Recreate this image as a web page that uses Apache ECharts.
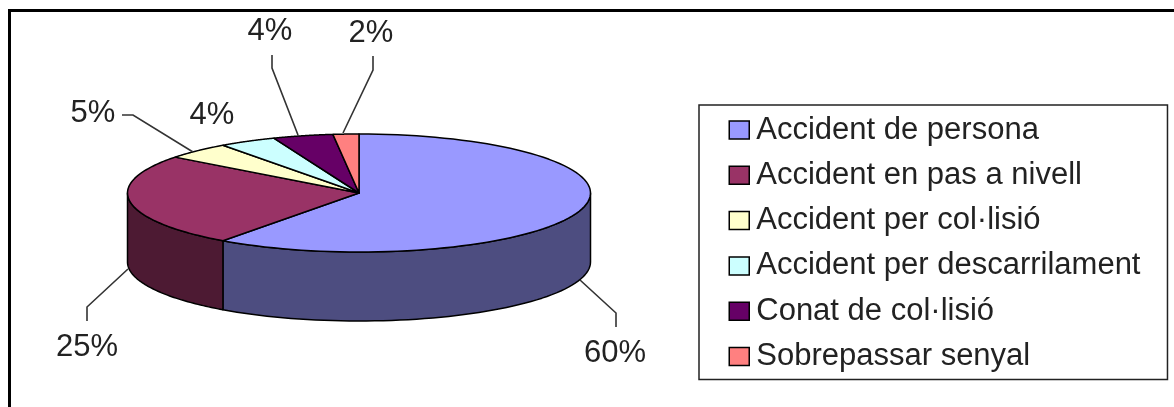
<!DOCTYPE html>
<html><head><meta charset="utf-8">
<style>html,body{margin:0;padding:0;background:#fff}#c{width:1174px;height:407px;filter:blur(0.4px)}</style>
<script src="https://cdn.jsdelivr.net/npm/echarts@6/dist/echarts.min.js"></script>
</head><body><div id="c"></div>
<script>
const categories = ['Accident de persona','Accident en pas a nivell','Accident per col·lisió','Accident per descarrilament','Conat de col·lisió','Sobrepassar senyal'];
const values = [60,25.4,4.6,4,4.2,1.8];
const percentLabels = ['60%','25%','5%','4%','4%','2%'];
const topColors = ['#9999FF','#993366','#FFFFCC','#CCFFFF','#660066','#FF8080'];
const sideColors = ['#4D4D80','#4D1A33','#808066','#668080','#330033','#804040'];
const leaderLines = [
  [[580,280],[616,313],[616,327]],
  [[128,269],[87,307],[87,321]],
  [[193,152],[133,115],[122,115]],
  [],
  [[298,135],[272,68],[272,55]],
  [[343,133],[373,70],[373,56]]
];
const labelCenters = [[615,353],[87,347],[93,113],[212,115],[270,31],[371,33]];
const pieDepth = 69;
const total = values.reduce((a,b)=>a+b,0);

function arcPoints(api, a0, a1, steps){
  const pts = [];
  for(let i=0;i<=steps;i++){
    const a = a0 + (a1-a0)*i/steps;
    pts.push(api.coord([Math.sin(a), Math.cos(a)]));
  }
  return pts;
}
function renderSlice(params, api){
  const idx = params.seriesIndex;
  const s = api.value(0)/total*2*Math.PI;
  const e = api.value(1)/total*2*Math.PI;
  const children = [];
  // visible outer wall: the front half of the ellipse
  const vs = Math.max(s, Math.PI/2), ve = Math.min(e, Math.PI*1.5);
  if(ve > vs){
    const top = arcPoints(api, vs, ve, 60);
    const bot = top.slice().reverse().map(p=>[p[0],p[1]+pieDepth]);
    children.push({type:'polygon', shape:{points:top.concat(bot)},
      style:{fill:sideColors[idx], stroke:'#000', lineWidth:1.5, lineJoin:'round'}});
  }
  const rim = arcPoints(api, s, e, 90);
  children.push({type:'polygon', shape:{points:[api.coord([0,0])].concat(rim)},
    style:{fill:topColors[idx], stroke:'#000', lineWidth:1.5, lineJoin:'round'}});
  if(leaderLines[idx].length){
    children.push({type:'polyline', shape:{points:leaderLines[idx]},
      style:{fill:'none', stroke:'#333', lineWidth:1.6}});
  }
  children.push({type:'text', style:{
    text:percentLabels[idx], x:labelCenters[idx][0], y:labelCenters[idx][1],
    fill:'#222', font:'31px "Liberation Sans", Arial, sans-serif', align:'center', verticalAlign:'middle'}});
  return {type:'group', children};
}
let acc = 0;
const series = categories.map((name,i)=>{
  const start = acc; acc += values[i];
  return {type:'custom', name, coordinateSystem:'cartesian2d', renderItem:renderSlice,
    itemStyle:{color:topColors[i]}, silent:true, clip:false, z:10,
    encode:{x:0,y:1}, data:[[start,acc,values[i]]], animation:false};
});
const chart = echarts.init(document.getElementById('c'), null, {renderer:'canvas'});
chart.setOption({
  animation:false,
  backgroundColor:'#fff',
  grid:{left:127.5,top:134,width:463,height:118},
  xAxis:{type:'value',min:-1,max:1,show:false},
  yAxis:{type:'value',min:-1,max:1,show:false},
  legend:{
    orient:'vertical', left:699, top:105, icon:'rect',
    itemWidth:20, itemHeight:18, itemGap:9.3,
    padding:[7,27,5,29.5], borderColor:'#222', borderWidth:1.5, backgroundColor:'#fff',
    itemStyle:{borderColor:'#000',borderWidth:1.5},
    textStyle:{fontFamily:'"Liberation Sans", Arial, sans-serif',fontSize:31,color:'#222',lineHeight:36,padding:[0,0,0,2]},
    selectedMode:false, data:categories
  },
  graphic:[
    {type:'polyline',silent:true,shape:{points:[[9.5,407],[9.5,10.5],[1174,10.5]]},style:{fill:'none',stroke:'#000',lineWidth:3}}
  ],
  series
});
</script></body></html>
